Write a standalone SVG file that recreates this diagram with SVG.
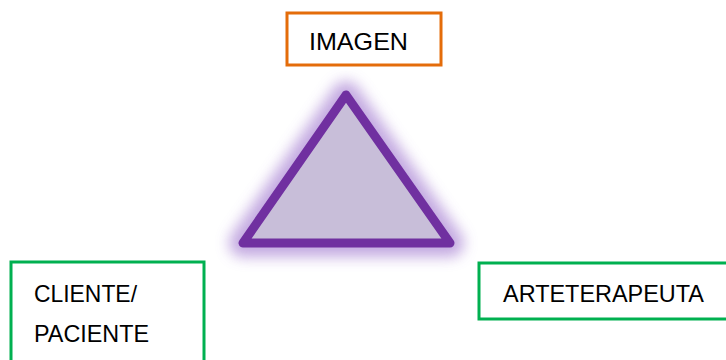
<svg xmlns="http://www.w3.org/2000/svg" width="726" height="360" viewBox="0 0 726 360">
<style>
.lbl{font-family:"Liberation Sans","Open Sans",Arial,sans-serif;font-size:24px;fill:#000}
.box{fill:#fff;stroke-width:3}
</style>
<defs>
<filter id="glow" x="-40%" y="-40%" width="180%" height="180%">
<feGaussianBlur stdDeviation="7"/>
</filter>
</defs>
<rect width="726" height="360" fill="#fff"/>
<g id="triangle">
<polygon points="346,95 243,243 450,243" fill="none" stroke="#B99BDC" stroke-width="28" stroke-linejoin="round" filter="url(#glow)" opacity="0.85"/>
<polygon points="346,95 243,243 450,243" fill="#C8BED9" stroke="#7030A0" stroke-width="9" stroke-linejoin="round"/>
</g>
<g id="imagen">
<rect class="box" x="287" y="13" width="154" height="52" stroke="#E46C0A"/>
<text class="lbl" x="309" y="50" textLength="99" lengthAdjust="spacingAndGlyphs">IMAGEN</text>
</g>
<g id="cliente">
<rect class="box" x="11" y="262" width="193" height="110" stroke="#00B050"/>
<text class="lbl" x="34" y="302" textLength="103" lengthAdjust="spacingAndGlyphs">CLIENTE/</text>
<text class="lbl" x="34" y="342" textLength="115" lengthAdjust="spacingAndGlyphs">PACIENTE</text>
</g>
<g id="arteterapeuta">
<rect class="box" x="479" y="263" width="260" height="56" stroke="#00B050"/>
<text class="lbl" x="503" y="302" textLength="201" lengthAdjust="spacingAndGlyphs">ARTETERAPEUTA</text>
</g>
<g id="connectors"></g>
</svg>
